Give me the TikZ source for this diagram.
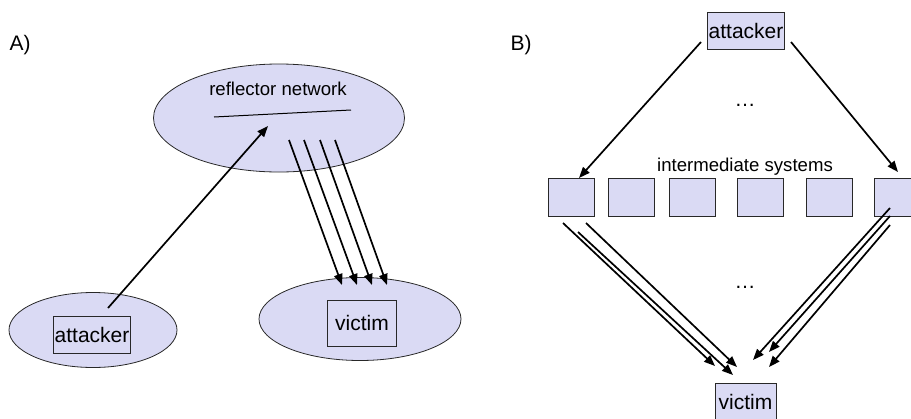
\documentclass[tikz,border=0pt]{standalone}
\usepackage{fontspec}
\setmainfont{Liberation Sans}
\usetikzlibrary{shapes.geometric,arrows.meta}
\definecolor{fillColor}{RGB}{218,218,244}
\definecolor{drawColor}{RGB}{40,40,40}
\tikzset{
  netcloud/.style={ellipse,draw=drawColor,line width=0.8pt,fill=fillColor,inner sep=0pt},
  hostbox/.style={rectangle,draw=drawColor,line width=0.8pt,inner sep=0pt},
  flow/.style={line width=1.7pt,-{Triangle[length=11pt,width=8.5pt]}},
  lbl/.style={inner sep=0pt,font=\fontsize{18.6}{22}\selectfont},
  big/.style={inner sep=0pt,font=\fontsize{21}{25}\selectfont}
}
\begin{document}
\begin{tikzpicture}[x=1pt,y=-1pt]
\useasboundingbox (0,0) rectangle (911,418);

% A) reflector attack
\node[big] (labA) at (20,45) {A)};
\node[netcloud,minimum width=251pt,minimum height=108pt] (refl) at (279,118) {};
\node[lbl] (reflTxt) at (278,89) {reflector network};
\draw[line width=1pt] (214,117) -- (351,110);

\node[netcloud,minimum width=168pt,minimum height=75pt] (atkNet) at (93,330) {};
\node[hostbox,big,minimum width=77pt,minimum height=37pt] (atkA) at (92,335) {attacker};
\node[netcloud,minimum width=202pt,minimum height=83pt] (vicNet) at (360,319) {};
\node[hostbox,big,minimum width=69pt,minimum height=46pt] (vicA) at (362,323) {victim};

\coordinate (atkOut) at (108,308);
\coordinate (reflIn) at (268,126);
\draw[flow] (atkOut) -- (reflIn);

\foreach \i/\xs/\xe in {1/289/342,2/304/357,3/320/372,4/335/387}{
  \coordinate (out\i) at (\xs,140);
  \coordinate (hit\i) at (\xe,285);
  \draw[flow] (out\i) -- (hit\i);
}

% B) via intermediate systems
\node[big] (labB) at (521,45) {B)};
\node[hostbox,big,fill=fillColor,minimum width=77pt,minimum height=37pt] (atkB) at (746,31) {attacker};
\node[big] (dotsTop) at (745,105) {…};
\node[lbl] (interTxt) at (745,167) {intermediate systems};
\foreach \n/\xc in {1/571,2/631.5,3/692,4/760.5,5/829,6/897}
  \node[hostbox,fill=fillColor,minimum width=46pt,minimum height=38pt] (sys\n) at (\xc,197) {};
\node[big] (dotsBot) at (745,287) {…};
\node[hostbox,big,fill=fillColor,minimum width=61pt,minimum height=38pt] (vicB) at (745.5,402) {victim};

\coordinate (atkL) at (701,42);
\coordinate (sysL) at (579,178);
\coordinate (atkR) at (791,42);
\coordinate (sysR) at (898,172);
\draw[flow] (atkL) -- (sysL);
\draw[flow] (atkR) -- (sysR);

\foreach \i/\a/\b/\c/\d in {1/563/223/715/366,2/578/232/733/375,3/586/223/737/367}{
  \coordinate (ls\i) at (\a,\b);
  \coordinate (le\i) at (\c,\d);
  \draw[flow] (ls\i) -- (le\i);
}
\foreach \i/\a/\b/\c/\d in {1/890/208/753/360,2/890/216/769/352,3/890/225/769/367}{
  \coordinate (rs\i) at (\a,\b);
  \coordinate (re\i) at (\c,\d);
  \draw[flow] (rs\i) -- (re\i);
}
\end{tikzpicture}
\end{document}
